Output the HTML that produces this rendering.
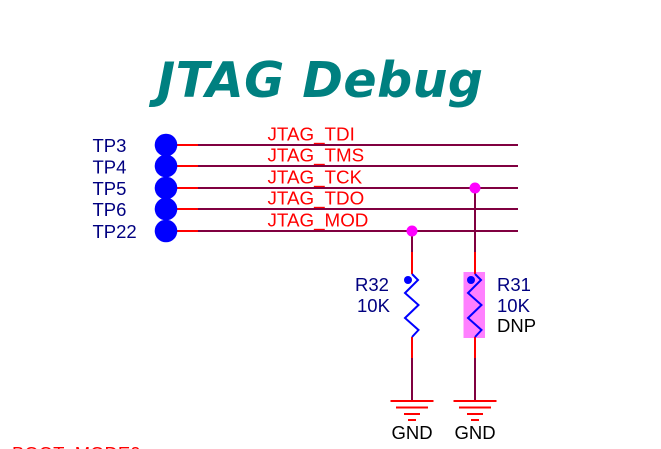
<!DOCTYPE html>
<html>
<head>
<meta charset="utf-8">
<style>
  html,body{margin:0;padding:0;background:#fff;}
  svg{display:block;}
  .t{font-family:"Liberation Sans",Arial,sans-serif;font-size:18.5px;}
  .n{font-family:"Liberation Sans",Arial,sans-serif;font-size:18.8px;}
</style>
</head>
<body>
<svg width="661" height="449" viewBox="0 0 661 449" xmlns="http://www.w3.org/2000/svg">
  <rect width="661" height="449" fill="#fff"/>
  <!-- Title -->
  <text x="157" y="97" fill="#008080" font-family="DejaVu Sans, sans-serif" font-weight="bold" font-style="oblique" font-size="49" textLength="326">JTAG Debug</text>

  <!-- TP labels -->
  <g class="t" fill="#000080">
    <text x="92.5" y="152">TP3</text>
    <text x="92.5" y="173.5">TP4</text>
    <text x="92.5" y="195">TP5</text>
    <text x="92.5" y="216">TP6</text>
    <text x="92.5" y="238">TP22</text>
  </g>

  <!-- Nets -->
  <g stroke-width="2" fill="none">
    <g stroke="#ff0000">
      <line x1="176" y1="145" x2="198" y2="145"/>
      <line x1="176" y1="166" x2="198" y2="166"/>
      <line x1="176" y1="188" x2="198" y2="188"/>
      <line x1="176" y1="209" x2="198" y2="209"/>
      <line x1="176" y1="231" x2="198" y2="231"/>
    </g>
    <g stroke="#800040">
      <line x1="198" y1="145" x2="518" y2="145"/>
      <line x1="198" y1="166" x2="518" y2="166"/>
      <line x1="198" y1="188" x2="518" y2="188"/>
      <line x1="198" y1="209" x2="518" y2="209"/>
      <line x1="198" y1="231" x2="518" y2="231"/>
      <line x1="412" y1="231" x2="412" y2="252"/>
      <line x1="475" y1="188" x2="475" y2="252"/>
      <line x1="412" y1="358" x2="412" y2="401"/>
      <line x1="475" y1="358" x2="475" y2="401"/>
    </g>
  </g>

  <!-- Test point circles -->
  <g fill="#0000ff">
    <circle cx="166" cy="145" r="11.3"/>
    <circle cx="166" cy="166" r="11.3"/>
    <circle cx="166" cy="188" r="11.3"/>
    <circle cx="166" cy="209" r="11.3"/>
    <circle cx="166" cy="231" r="11.3"/>
  </g>

  <!-- Net labels -->
  <g class="n" fill="#ff0000">
    <text x="267.5" y="140.5">JTAG_TDI</text>
    <text x="267.5" y="161.5">JTAG_TMS</text>
    <text x="267.5" y="183.5">JTAG_TCK</text>
    <text x="267.5" y="204.5">JTAG_TDO</text>
    <text x="267.5" y="226.5">JTAG_MOD</text>
  </g>

  <!-- R31 DNP highlight -->
  <rect x="463.5" y="272" width="21.5" height="66" fill="#ff80ff"/>

  <!-- Resistor pins (red) -->
  <g stroke="#ff0000" stroke-width="2">
    <line x1="412" y1="252" x2="412" y2="274"/>
    <line x1="412" y1="337" x2="412" y2="358"/>
    <line x1="475" y1="252" x2="475" y2="274"/>
    <line x1="475" y1="337" x2="475" y2="358"/>
  </g>

  <!-- Zigzags -->
  <g stroke="#0000ff" stroke-width="2" fill="none" stroke-linejoin="miter">
    <polyline points="412,274 418,280 405,293 418.5,305 405,318 418.5,330 412,337"/>
    <polyline points="475,274 481,280 468,293 481.5,305 468,318 481.5,330 475,337"/>
  </g>
  <g fill="#0000ff">
    <circle cx="408" cy="280" r="4"/>
    <circle cx="471" cy="280" r="4"/>
  </g>

  <!-- Junctions -->
  <g fill="#ff00ff">
    <circle cx="475" cy="188" r="5.5"/>
    <circle cx="412" cy="231" r="5.5"/>
  </g>

  <!-- Resistor labels -->
  <g class="t" fill="#000080">
    <text x="355" y="291">R32</text>
    <text x="357" y="312">10K</text>
    <text x="497" y="291">R31</text>
    <text x="497" y="312">10K</text>
  </g>
  <text class="t" x="497" y="332" fill="#000000">DNP</text>

  <!-- Grounds -->
  <g stroke="#ff0000" stroke-width="2">
    <line x1="390.5" y1="401" x2="433.5" y2="401"/>
    <line x1="396" y1="407.5" x2="428" y2="407.5"/>
    <line x1="404" y1="414" x2="420" y2="414"/>
    <line x1="408" y1="420" x2="416" y2="420"/>
    <line x1="453.5" y1="401" x2="496.5" y2="401"/>
    <line x1="459" y1="407.5" x2="491" y2="407.5"/>
    <line x1="467" y1="414" x2="483" y2="414"/>
    <line x1="471" y1="420" x2="479" y2="420"/>
  </g>
  <g class="t" fill="#000000" text-anchor="middle">
    <text x="412" y="439">GND</text>
    <text x="475" y="439">GND</text>
  </g>

  <!-- Cut-off label at bottom -->
  <text class="t" x="12" y="460" fill="#ff0000">BOOT_MODE0</text>
</svg>
</body>
</html>
